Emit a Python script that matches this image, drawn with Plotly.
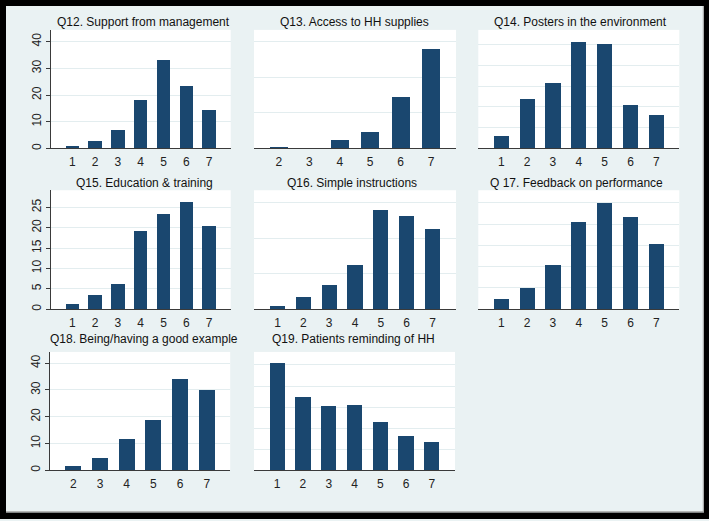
import plotly.graph_objects as go

W, H = 709, 521

# ---------------- data (percent of respondents per score) ----------------
titles = [
    "Q12. Support from management",
    "Q13. Access to HH supplies",
    "Q14. Posters in the environment",
    "Q15. Education & training",
    "Q16. Simple instructions",
    "Q 17. Feedback on performance",
    "Q18. Being/having a good example",
    "Q19. Patients reminding of HH",
]
cats_q12 = [1, 2, 3, 4, 5, 6, 7]
vals_q12 = [0.8, 2.7, 6.8, 18.1, 33.2, 23.4, 14.4]
cats_q13 = [2, 3, 4, 5, 6, 7]
vals_q13 = [0.9, 0.0, 4.7, 9.3, 28.9, 55.7]
cats_q14 = [1, 2, 3, 4, 5, 6, 7]
vals_q14 = [2.9, 12.0, 15.8, 25.7, 25.0, 10.5, 8.1]
cats_q15 = [1, 2, 3, 4, 5, 6, 7]
vals_q15 = [1.3, 3.4, 6.1, 19.3, 23.3, 26.2, 20.5]
cats_q16 = [1, 2, 3, 4, 5, 6, 7]
vals_q16 = [0.75, 3.3, 6.7, 12.4, 28.1, 26.2, 22.6]
cats_q17 = [1, 2, 3, 4, 5, 6, 7]
vals_q17 = [2.3, 5.0, 10.3, 20.5, 24.9, 21.6, 15.4]
cats_q18 = [2, 3, 4, 5, 6, 7]
vals_q18 = [1.5, 4.5, 11.6, 18.6, 33.9, 29.8]
cats_q19 = [1, 2, 3, 4, 5, 6, 7]
vals_q19 = [25.5, 17.4, 15.2, 15.4, 11.5, 8.2, 6.8]

ytick_q12 = [0, 10, 20, 30, 40]
ytick_q13 = [20, 40, 60]
ytick_q14 = [5, 10, 15, 20, 25]
ytick_q15 = [0, 5, 10, 15, 20, 25]
ytick_q16 = [10, 20, 30]
ytick_q17 = [5, 10, 15, 20, 25]
ytick_q18 = [0, 10, 20, 30, 40]
ytick_q19 = [5, 10, 15, 20, 25]

cats = [cats_q12, cats_q13, cats_q14, cats_q15, cats_q16, cats_q17, cats_q18, cats_q19]
vals = [vals_q12, vals_q13, vals_q14, vals_q15, vals_q16, vals_q17, vals_q18, vals_q19]
yticks = [ytick_q12, ytick_q13, ytick_q14, ytick_q15, ytick_q16, ytick_q17, ytick_q18, ytick_q19]

# ---------------- layout geometry (pixels) ----------------
# plot boxes: (left, right, top, bottom)
boxes = [
    (50.7, 230.7, 30, 149), (254, 456, 30, 149), (478.3, 679.3, 30, 149),
    (50.7, 230.7, 191, 310.3), (254, 456, 191, 310.3), (478.3, 679.3, 191, 310.3),
    (49.8, 230.2, 353.3, 472), (254, 455, 353.3, 472),
]
xranges = [
    [0.05, 7.95], [1.18, 7.82], [0.11, 7.89],
    [0.05, 7.95], [0.09, 7.91], [0.11, 7.89],
    [1.12, 7.88], [0.10, 7.90],
]
ytops = [44.4, 66.5, 28.5, 29.2, 33.6, 28.0, 44.2, 28.1]
show_y = [True, False, False, True, False, False, True, False]
title_pos = [(143.3, 22.5), (354, 22.5), (580.8, 22.5),
             (144, 184), (352, 184), (576.7, 184),
             (143.8, 340), (353.3, 340)]

BG = "#eaf2f3"
NAVY = "#1a476f"
AX = "#3a3a3a"
FONT = "Liberation Sans, Arial, Helvetica, sans-serif"

fig = go.Figure()
layout = dict(
    width=W, height=H, margin=dict(l=0, r=0, t=0, b=0),
    paper_bgcolor=BG, plot_bgcolor="white", showlegend=False,
    font=dict(family=FONT, size=12, color="#222"),
    bargap=0,
)

annotations = []
for i in range(8):
    n = "" if i == 0 else str(i + 1)
    l, r, t, b = boxes[i]
    fig.add_trace(go.Bar(
        x=cats[i], y=vals[i], width=0.59,
        marker=dict(color=NAVY, line=dict(width=0)),
        xaxis="x" + n, yaxis="y" + n, hoverinfo="x+y",
    ))
    layout["xaxis" + n] = dict(
        domain=[l / W, r / W], anchor="y" + n,
        range=xranges[i], tickvals=cats[i], ticktext=[str(c) for c in cats[i]],
        showgrid=False, zeroline=False, showline=True, linecolor=AX, linewidth=1,
        ticks="outside", ticklen=2, tickcolor="rgba(0,0,0,0)",
        tickfont=dict(size=12, color="#222"), fixedrange=True,
    )
    layout["yaxis" + n] = dict(
        domain=[1 - b / H, 1 - t / H], anchor="x" + n,
        range=[0, ytops[i]], tickvals=yticks[i],
        showgrid=True, gridcolor="#e3edef", gridwidth=1,
        zeroline=False, showline=show_y[i], linecolor=AX, linewidth=1,
        showticklabels=show_y[i], ticks="outside" if show_y[i] else "",
        ticklen=4, tickcolor=AX, tickangle=-90,
        tickfont=dict(size=12, color="#222"), fixedrange=True,
    )
    tx, ty = title_pos[i]
    annotations.append(dict(
        text=titles[i], x=tx / W, y=1 - ty / H, xref="paper", yref="paper",
        xanchor="center", yanchor="middle", showarrow=False,
        font=dict(size=12, color="#111", family=FONT),
    ))

# black frame around the graph region
shapes = [
    dict(type="rect", xref="paper", yref="paper", x0=0, x1=6 / W, y0=0, y1=1,
         fillcolor="black", line=dict(width=0), layer="above"),
    dict(type="rect", xref="paper", yref="paper", x0=0, x1=1, y0=1 - 6 / H, y1=1,
         fillcolor="black", line=dict(width=0), layer="above"),
    dict(type="rect", xref="paper", yref="paper", x0=704 / W, x1=1, y0=0, y1=1,
         fillcolor="black", line=dict(width=0), layer="above"),
    dict(type="rect", xref="paper", yref="paper", x0=0, x1=1, y0=0, y1=1 - 514.5 / H,
         fillcolor="black", line=dict(width=0), layer="above"),
    dict(type="line", xref="paper", yref="paper", x0=703.3 / W, x1=703.3 / W,
         y0=1 - 514 / H, y1=1 - 6 / H, line=dict(color="#9a9a9a", width=1), layer="above"),
    dict(type="line", xref="paper", yref="paper", x0=6 / W, x1=703.5 / W,
         y0=1 - 513.8 / H, y1=1 - 513.8 / H, line=dict(color="#9a9a9a", width=1), layer="above"),
]

layout["annotations"] = annotations
layout["shapes"] = shapes
fig.update_layout(**layout)
fig.write_html(
    "out.html",
    config={"displayModeBar": False, "staticPlot": True},
    post_script="document.body.style.margin='0';document.body.style.padding='0';"
                "document.body.style.overflow='hidden';",
)
